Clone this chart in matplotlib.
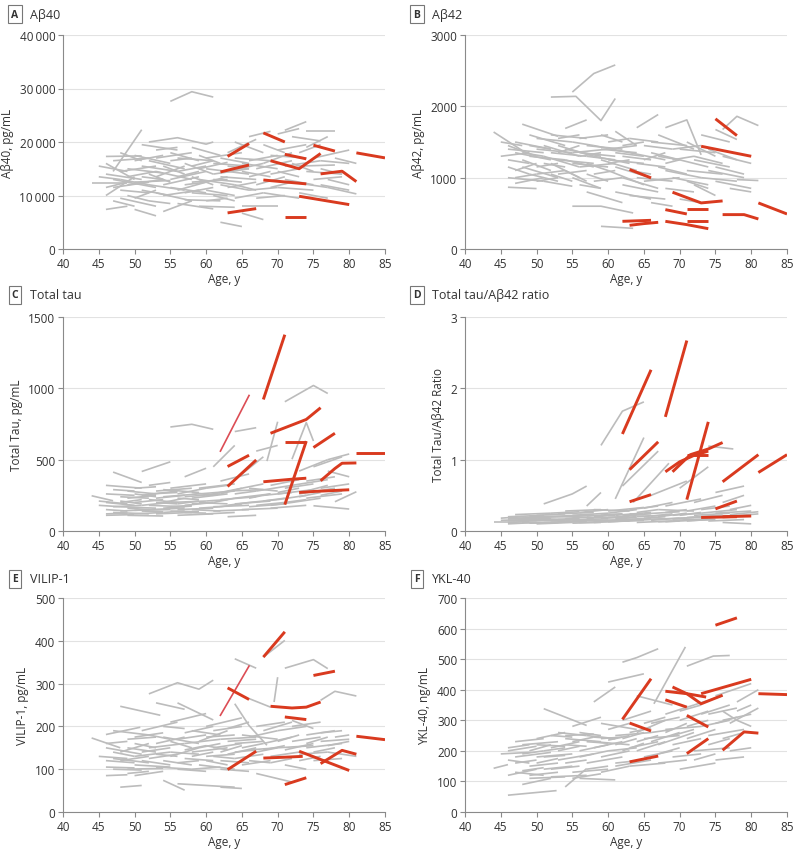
import matplotlib
matplotlib.use("Agg")
import matplotlib.pyplot as plt
from matplotlib.ticker import FuncFormatter

plt.rcParams['font.family'] = ['Open Sans', 'DejaVu Sans']

age_ticks = [40, 45, 50, 55, 60, 65, 70, 75, 80, 85]

# --- A: Abeta40 ---------------------------------------------------------
A_yticks = [0, 10000, 20000, 30000, 40000]
A_gray = [
    ((44, 49), (12300, 12300)), ((46, 51), (17300, 17400)), ((46, 49), (7400, 8000)),
    ((47, 51), (14500, 22300)), ((46, 50), (10000, 13500)), ((47, 53), (13000, 11500)),
    ((48, 53), (9500, 8000)), ((50, 53), (7400, 6200)), ((46, 50), (16000, 13000)),
    ((48, 52), (11000, 10500)), ((49, 54), (15000, 14200)), ((50, 55), (12500, 12800)),
    ((51, 56), (19500, 18500)), ((52, 56, 60, 61), (20000, 20800, 19600, 20000)),
    ((52, 57), (16500, 15000)), ((53, 58), (10500, 9000)), ((53, 57), (13500, 15500)),
    ((54, 58), (7000, 9000)), ((55, 60), (13000, 14500)), ((55, 58, 61), (27600, 29400, 28400)),
    ((55, 59), (18000, 16500)), ((56, 60), (11000, 12500)), ((56, 61), (8500, 7500)),
    ((57, 62), (9200, 9000)), ((57, 61), (16000, 14000)), ((58, 63), (12500, 13000)),
    ((58, 62), (19000, 17500)), ((59, 64), (8000, 7800)), ((59, 63), (15000, 16200)),
    ((60, 66), (15000, 14000)), ((60, 64), (11000, 10000)), ((61, 65), (13000, 12500)),
    ((62, 65), (5000, 4200)), ((62, 66), (17000, 16000)), ((63, 67), (18000, 20500)),
    ((63, 67), (11500, 12500)), ((64, 68), (20000, 18000)), ((64, 68), (9500, 10500)),
    ((65, 68), (6700, 5500)), ((65, 70), (8000, 8000)), ((65, 69), (14500, 13500)),
    ((66, 69), (21000, 22000)), ((66, 70), (16500, 17500)), ((67, 71), (9500, 10000)),
    ((67, 71), (12000, 13500)), ((68, 72), (16000, 18000)), ((68, 71), (19500, 18000)),
    ((69, 73), (14000, 15000)), ((70, 75), (11500, 11000)), ((70, 73), (21500, 22500)),
    ((71, 74), (22200, 23800)), ((71, 75), (13000, 12000)), ((72, 76), (21000, 20200)),
    ((72, 75), (16000, 14500)), ((73, 78), (15500, 15700)), ((74, 78), (22000, 22000)),
    ((74, 77), (19000, 21000)), ((75, 80), (17000, 18500)), ((75, 79), (13000, 13500)),
    ((76, 80), (12000, 11000)), ((77, 81), (11500, 10300)), ((78, 81), (17000, 16000)),
    ((45, 49), (15500, 14500)), ((47, 52), (11500, 12500)), ((48, 51), (18000, 16500)),
    ((49, 53), (13500, 14500)), ((50, 54), (16500, 17500)), ((51, 55), (11000, 10000)),
    ((52, 55), (14000, 12500)), ((53, 58), (17000, 18000)), ((54, 59), (12000, 13500)),
    ((54, 57), (15500, 14000)), ((56, 60), (14500, 15500)), ((57, 61), (10500, 11500)),
    ((58, 61), (13500, 12000)), ((59, 62), (17500, 16000)), ((60, 63), (9000, 9500)),
    ((61, 66), (14000, 15000)), ((62, 66), (12000, 11000)), ((63, 66), (15500, 15000)),
    ((64, 69), (17000, 16500)), ((66, 70), (11000, 11500)), ((69, 72), (11500, 12500)),
    ((70, 74), (18500, 19500)), ((73, 77), (10500, 9500)), ((76, 79), (15000, 14000)),
    ((45, 48), (13500, 13000)), ((46, 49), (11500, 12500)), ((46, 51), (14000, 13000)),
    ((47, 50), (9000, 8000)), ((47, 52), (16500, 17000)), ((48, 52), (13000, 12000)),
    ((48, 53), (14500, 15500)), ((49, 52), (10000, 9000)), ((49, 54), (12000, 13000)),
    ((50, 55), (17500, 16000)), ((50, 53), (9500, 11000)), ((51, 54), (13500, 13000)),
    ((51, 56), (15500, 14500)), ((52, 57), (12000, 11000)), ((52, 55), (9000, 8500)),
    ((53, 56), (18500, 19000)), ((53, 58), (14500, 13000)), ((54, 59), (10000, 11000)),
    ((55, 58), (16500, 17000)), ((55, 60), (11500, 10500)), ((56, 59), (13500, 14500)),
    ((56, 61), (17000, 16500)), ((57, 60), (12000, 12500)), ((58, 63), (10500, 10000)),
    ((58, 61), (15500, 16500)), ((59, 64), (13000, 12000)), ((60, 65), (17000, 18000)),
    ((60, 63), (12500, 13500)), ((61, 64), (10000, 9000)), ((61, 66), (16000, 15500)),
    ((62, 67), (13500, 13000)), ((63, 68), (14500, 16000)), ((64, 67), (12000, 11000)),
    ((65, 70), (16000, 15000)), ((66, 69), (13500, 14500)), ((67, 72), (15000, 16500)),
    ((68, 73), (10500, 9500)), ((69, 74), (17500, 17000)), ((70, 73), (14500, 13500)),
    ((71, 76), (15500, 16500)), ((72, 77), (12500, 11500)), ((73, 76), (18000, 19500)),
    ((74, 79), (14500, 14000)), ((76, 80), (16500, 16000)), ((77, 80), (13000, 12000)),
]
A_red = [
    ((63, 66), (17300, 19700)), ((62, 66), (14400, 15700)), ((63, 67), (6750, 7550)),
    ((68, 71), (21700, 20000)), ((71, 74), (17700, 16850)), ((69, 73, 76), (16500, 15000, 17850)),
    ((68, 74), (12900, 12170)), ((71, 74), (6000, 6000)), ((73, 80), (9860, 8300)),
    ((75, 78), (19400, 18300)), ((76, 79, 81), (14040, 14540, 12600)), ((81, 85), (17970, 17030)),
]
A_red_thin = []

# --- B: Abeta42 ---------------------------------------------------------
B_yticks = [0, 1000, 2000, 3000]
B_gray = [
    ((44, 48), (1640, 1380)), ((46, 50), (866, 847)), ((46, 50), (1450, 1300)),
    ((46, 51), (1000, 950)), ((46, 49), (1150, 1050)), ((47, 52), (1350, 1250)),
    ((47, 51), (920, 1000)), ((48, 53), (1750, 1580)), ((48, 52), (1250, 1100)),
    ((49, 53), (1050, 950)), ((49, 54), (1600, 1450)), ((50, 55), (1400, 1350)),
    ((50, 53), (1150, 1200)), ((51, 55), (950, 880)), ((51, 56), (1300, 1150)),
    ((52, 55.5, 59, 61), (2130, 2140, 1800, 2110)), ((52, 57), (1600, 1550)),
    ((52, 56), (1200, 1000)), ((53, 57), (1050, 1100)), ((53, 58), (1450, 1300)),
    ((54, 57), (1690, 1810)), ((54, 58), (1250, 1150)), ((55, 58, 61), (2200, 2460, 2580)),
    ((55, 59, 63.5), (600, 600, 505)), ((55, 60), (1350, 1400)), ((55, 59), (1000, 850)),
    ((56, 60), (1550, 1600)), ((56, 61), (1150, 1200)), ((57, 62), (800, 650)),
    ((57, 61), (1300, 1250)), ((58, 63), (1450, 1350)), ((58, 62), (950, 1000)),
    ((59, 63.5), (318, 290)), ((59, 64), (1250, 1100)), ((59, 62), (1600, 1500)),
    ((60, 65), (1100, 900)), ((60, 64), (1400, 1450)), ((61, 66), (800, 700)),
    ((61, 64), (1650, 1450)), ((62, 66), (1300, 1250)), ((62, 67), (1000, 850)),
    ((63, 67), (1550, 1500)), ((63, 68), (750, 700)), ((64, 67), (1700, 1885)),
    ((64, 68), (1200, 1150)), ((65, 69), (1450, 1400)), ((65, 70), (950, 1000)),
    ((66, 70), (1350, 1250)), ((66, 69), (650, 600)), ((67, 71), (1150, 1050)),
    ((67, 72), (1600, 1400)), ((68, 71, 73), (1700, 1810, 1320)), ((68, 72), (850, 800)),
    ((69, 73), (1400, 1450)), ((69, 74), (1000, 900)), ((70, 74), (1250, 1150)),
    ((70, 73), (700, 650)), ((71, 75), (1500, 1300)), ((71, 76), (1100, 1050)),
    ((72, 76), (1300, 1200)), ((72, 75), (900, 750)), ((73, 77), (1600, 1500)),
    ((73, 78), (1000, 950)), ((74, 78), (1400, 1250)), ((75, 78), (1675, 1535)),
    ((75, 79), (1150, 1050)), ((76, 78, 81), (1675, 1860, 1730)), ((76, 80), (1300, 1200)),
    ((77, 80), (850, 800)), ((78, 81), (973, 960)), ((45, 49), (1300, 1350)),
    ((47, 50), (1100, 1200)), ((50, 54), (1050, 1100)), ((53, 56), (1350, 1450)),
    ((56, 59), (1300, 1350)), ((57, 60), (1050, 950)), ((60, 63), (1200, 1250)),
    ((61, 65), (1350, 1300)), ((63, 66), (1100, 1050)), ((68, 70), (1200, 1250)),
    ((45, 48), (1500, 1450)), ((46, 49), (1250, 1200)), ((46, 51), (1400, 1350)),
    ((47, 50), (1000, 1050)), ((47, 52), (1500, 1400)), ((48, 51), (1350, 1300)),
    ((48, 53), (1150, 1000)), ((49, 52), (1450, 1400)), ((49, 54), (1300, 1250)),
    ((50, 55), (1550, 1500)), ((50, 53), (950, 1000)), ((51, 54), (1200, 1150)),
    ((51, 56), (1450, 1300)), ((52, 57), (1350, 1300)), ((52, 55), (1050, 950)),
    ((53, 58), (1250, 1200)), ((53, 56), (1550, 1600)), ((54, 59), (1400, 1300)),
    ((54, 57), (1100, 950)), ((55, 60), (1200, 1150)), ((55, 58), (1500, 1450)),
    ((56, 61), (1350, 1300)), ((56, 59), (900, 850)), ((57, 62), (1450, 1400)),
    ((57, 60), (1200, 1100)), ((58, 63), (1300, 1200)), ((58, 61), (1050, 1100)),
    ((59, 64), (1400, 1350)), ((60, 65), (1250, 1200)), ((60, 63), (1500, 1550)),
    ((61, 66), (1150, 1000)), ((62, 65), (1450, 1500)), ((62, 67), (900, 800)),
    ((63, 68), (1350, 1250)), ((64, 69), (1000, 950)), ((65, 68), (1250, 1350)),
    ((66, 71), (1500, 1450)), ((67, 70), (1300, 1250)), ((68, 73), (1100, 1000)),
    ((69, 72), (1250, 1300)), ((70, 75), (1400, 1350)), ((71, 74), (950, 850)),
    ((72, 77), (1250, 1150)), ((74, 79), (1100, 1000)), ((75, 80), (950, 850)),
]
B_red = [
    ((75, 78), (1825, 1590)), ((73, 80), (1440, 1300)), ((63, 66), (1114, 997)),
    ((69, 73, 76), (796, 646, 674)), ((68, 71), (552, 491)), ((71, 74), (560, 560)),
    ((81, 85), (646, 491)), ((76, 79, 81), (482, 482, 421)), ((62, 66), (388, 402)),
    ((63, 65, 67), (332, 356, 374)), ((68, 71, 74), (388, 342, 285)), ((71, 74), (398, 398)),
]
B_red_thin = []

# --- C: Total tau -------------------------------------------------------
C_yticks = [0, 500, 1000, 1500]
C_gray = [
    ((44, 47), (247, 212)), ((46, 50), (110, 115)), ((46, 49), (150, 140)),
    ((46, 51), (320, 300)), ((46, 50), (200, 180)), ((47, 51), (413, 340)),
    ((47, 52), (130, 120)), ((48, 52), (240, 230)), ((48, 53), (170, 160)),
    ((49, 54), (110, 105)), ((49, 53), (280, 260)), ((50, 54), (200, 220)),
    ((50, 55), (145, 150)), ((51, 55), (417, 485)), ((51, 56), (250, 280)),
    ((52, 57), (180, 170)), ((52, 55), (320, 340)), ((53, 58), (120, 130)),
    ((53, 57), (230, 250)), ((54, 58), (160, 175)), ((54, 59), (290, 270)),
    ((55, 58, 61), (729, 748, 713)), ((55, 60), (200, 210)), ((55, 59), (140, 135)),
    ((56, 60), (260, 300)), ((56, 61), (110, 120)), ((57, 61), (180, 200)),
    ((57, 60), (380, 440)), ((58, 63), (230, 260)), ((58, 62), (150, 140)),
    ((59, 64), (300, 330)), ((59, 63), (200, 190)), ((60, 64), (120, 130)),
    ((60, 65), (250, 300)), ((61, 64), (450, 600)), ((61, 66), (170, 180)),
    ((62, 66), (350, 400)), ((62, 67), (220, 240)), ((63, 67), (100, 110)),
    ((63, 68), (280, 290)), ((64, 67), (697, 724)), ((64, 69), (190, 210)),
    ((65, 68), (400, 520)), ((65, 70), (150, 160)), ((66, 70), (300, 280)),
    ((66, 69), (230, 260)), ((67, 71), (180, 200)), ((67, 70), (560, 600)),
    ((68.5, 70), (490, 766)), ((68, 72), (250, 270)), ((69, 73), (320, 360)),
    ((69, 74), (160, 180)), ((70, 74), (220, 250)), ((71, 75, 77), (906, 1020, 964)),
    ((71, 75), (300, 330)), ((72, 74, 75), (503, 760, 631)), ((72, 76), (200, 230)),
    ((73, 77), (420, 500)), ((73, 78), (260, 300)), ((74, 78), (350, 380)),
    ((74, 79), (230, 260)), ((75, 80), (177, 154)), ((75, 79), (450, 520)),
    ((76, 80), (300, 330)), ((77, 80), (420, 380)), ((78, 81), (205, 275)),
    ((77, 80), (500, 540)), ((45, 48), (180, 170)), ((48, 51), (210, 190)),
    ((50, 53), (260, 240)), ((52, 56), (220, 200)), ((54, 57), (200, 230)),
    ((56, 59), (230, 220)), ((58, 61), (270, 250)), ((60, 63), (210, 220)),
    ((62, 65), (170, 190)), ((64, 67), (260, 280)), ((66, 70), (200, 220)),
    ((70, 73), (270, 300)),
    ((45, 49), (210, 190)), ((46, 50), (260, 250)), ((46, 49), (120, 125)),
    ((47, 51), (170, 180)), ((47, 50), (290, 280)), ((48, 52), (140, 150)),
    ((48, 51), (200, 220)), ((49, 53), (230, 250)), ((49, 52), (160, 150)),
    ((50, 54), (120, 130)), ((50, 53), (300, 310)), ((51, 55), (180, 200)),
    ((51, 54), (140, 135)), ((52, 56), (260, 270)), ((52, 57), (150, 160)),
    ((53, 56), (200, 190)), ((53, 58), (280, 300)), ((54, 57), (130, 140)),
    ((54, 59), (240, 260)), ((55, 58), (170, 180)), ((55, 60), (300, 330)),
    ((56, 59), (190, 210)), ((56, 61), (150, 160)), ((57, 62), (240, 260)),
    ((57, 60), (130, 125)), ((58, 61), (190, 200)), ((59, 62), (160, 170)),
    ((59, 64), (260, 280)), ((60, 63), (300, 320)), ((61, 64), (200, 230)),
    ((61, 66), (140, 150)), ((62, 65), (260, 300)), ((63, 66), (180, 200)),
    ((64, 69), (230, 260)), ((65, 68), (300, 330)), ((66, 71), (170, 190)),
    ((67, 72), (280, 320)), ((68, 71), (210, 230)), ((69, 72), (180, 200)),
    ((70, 75), (260, 290)), ((71, 74), (200, 220)), ((72, 77), (320, 360)),
    ((73, 76), (240, 270)), ((74, 77), (280, 320)), ((76, 79), (250, 280)),
]
C_red = [
    ((68, 71), (922, 1376)), ((63, 66), (452, 531)), ((63, 67), (312, 498)),
    ((69, 72, 74, 76), (685, 743, 782, 864)), ((75, 78), (585, 685)), ((71, 74), (625, 625)),
    ((71, 74), (185, 630)), ((68, 72, 74), (345, 363, 370)), ((73, 75, 80), (270, 277, 289)),
    ((76, 78, 79, 81), (352, 438, 475, 477)), ((81, 85), (550, 550)),
]
C_red_thin = [((62, 66), (560, 950))]

# --- D: Total tau/Abeta42 ratio -----------------------------------------
D_yticks = [0, 1, 2, 3]
D_gray = [
    ((44, 47), (0.13, 0.13)), ((46, 50), (0.10, 0.12)), ((46, 51), (0.20, 0.22)),
    ((46, 49), (0.15, 0.14)), ((47, 52), (0.23, 0.25)), ((48, 52), (0.12, 0.11)),
    ((48, 53), (0.18, 0.20)), ((49, 54), (0.14, 0.15)), ((50, 54), (0.22, 0.24)),
    ((50, 55), (0.10, 0.12)), ((51, 55, 57), (0.38, 0.52, 0.63)), ((51, 56), (0.17, 0.16)),
    ((52, 56), (0.25, 0.27)), ((52, 57), (0.12, 0.13)), ((53, 58), (0.20, 0.22)),
    ((54, 58), (0.15, 0.17)), ((54, 59), (0.28, 0.30)), ((55, 59), (0.11, 0.12)),
    ((55, 60), (0.20, 0.18)), ((56, 60), (0.26, 0.30)), ((56, 61), (0.15, 0.14)),
    ((57, 59), (0.35, 0.54)), ((57, 62), (0.21, 0.24)), ((58, 62), (0.12, 0.14)),
    ((58, 63), (0.30, 0.28)), ((59, 62, 65), (1.20, 1.68, 1.81)), ((59, 64), (0.18, 0.20)),
    ((60, 64), (0.25, 0.30)), ((60, 65), (0.13, 0.15)), ((61, 65), (0.45, 1.31)),
    ((61, 66), (0.22, 0.26)), ((62, 67), (0.63, 1.12)), ((62, 66), (0.16, 0.18)),
    ((63, 67), (0.30, 0.35)), ((63.5, 68.5), (0.40, 0.95)), ((64, 68), (0.20, 0.22)),
    ((64, 69), (0.12, 0.14)), ((65, 69), (0.32, 0.40)), ((65, 70), (0.24, 0.27)),
    ((66, 70), (0.15, 0.18)), ((66, 71), (0.50, 0.70)), ((67, 71), (0.20, 0.25)),
    ((67, 72), (0.30, 0.28)), ((68, 72), (0.13, 0.15)), ((68, 73), (0.35, 0.45)),
    ((69, 73), (0.22, 0.25)), ((70, 74), (0.60, 0.90)), ((70, 75), (0.18, 0.20)),
    ((71, 75), (0.28, 0.35)), ((71, 74), (0.14, 0.16)), ((72, 76), (0.40, 0.50)),
    ((72, 77), (0.22, 0.25)), ((73, 77), (0.30, 0.35)), ((74, 77.5), (1.19, 1.15)),
    ((74, 78), (0.18, 0.22)), ((75, 79), (0.54, 0.63)), ((75, 80), (0.25, 0.28)),
    ((76, 80), (0.12, 0.10)), ((76, 79), (0.40, 0.50)), ((77, 81), (0.23, 0.27)),
    ((45, 48), (0.18, 0.20)), ((49, 52), (0.19, 0.17)), ((53, 56), (0.16, 0.18)),
    ((57, 60), (0.16, 0.15)), ((59, 62), (0.22, 0.24)), ((61, 64), (0.17, 0.19)),
    ((63, 66), (0.24, 0.22)), ((65, 68), (0.18, 0.20)), ((69, 72), (0.17, 0.19)),
    ((73, 76), (0.20, 0.22)),
    ((45, 49), (0.15, 0.16)), ((46, 50), (0.17, 0.18)), ((46, 49), (0.12, 0.13)),
    ((47, 51), (0.14, 0.15)), ((47, 50), (0.20, 0.19)), ((48, 52), (0.16, 0.17)),
    ((49, 53), (0.11, 0.12)), ((49, 54), (0.21, 0.20)), ((50, 53), (0.16, 0.15)),
    ((51, 54), (0.12, 0.13)), ((51, 56), (0.20, 0.22)), ((52, 55), (0.15, 0.16)),
    ((53, 57), (0.13, 0.14)), ((53, 58), (0.24, 0.26)), ((54, 57), (0.18, 0.19)),
    ((55, 58), (0.14, 0.15)), ((55, 60), (0.22, 0.25)), ((56, 59), (0.12, 0.13)),
    ((57, 61), (0.18, 0.19)), ((58, 61), (0.20, 0.22)), ((58, 63), (0.15, 0.16)),
    ((59, 63), (0.13, 0.14)), ((60, 63), (0.19, 0.21)), ((60, 65), (0.28, 0.33)),
    ((61, 65), (0.14, 0.15)), ((62, 65), (0.21, 0.23)), ((63, 68), (0.15, 0.17)),
    ((64, 67), (0.26, 0.30)), ((65, 70), (0.16, 0.18)), ((66, 69), (0.21, 0.24)),
    ((67, 70), (0.13, 0.14)), ((68, 71), (0.26, 0.30)), ((69, 74), (0.15, 0.17)),
    ((70, 73), (0.22, 0.26)), ((71, 76), (0.19, 0.22)), ((72, 75), (0.15, 0.16)),
    ((73, 78), (0.25, 0.30)), ((74, 79), (0.14, 0.16)), ((76, 81), (0.20, 0.24)),
    ((77, 80), (0.30, 0.36)),
]
D_red = [
    ((62, 66), (1.36, 2.26)), ((68, 71), (1.60, 2.67)), ((63, 67), (0.86, 1.25)),
    ((63, 66), (0.41, 0.51)), ((68, 70, 72, 74), (0.83, 0.97, 1.06, 1.12)),
    ((69, 71.5, 74, 76), (0.83, 1.07, 1.15, 1.24)), ((71, 74), (0.44, 1.53)),
    ((71, 74), (1.07, 1.07)), ((73, 78), (0.19, 0.20)), ((76, 80), (0.20, 0.21)),
    ((75, 78), (0.31, 0.42)), ((76, 81), (0.69, 1.07)), ((81, 85), (0.82, 1.07)),
]
D_red_thin = []

# --- E: VILIP-1 ---------------------------------------------------------
E_yticks = [0, 100, 200, 300, 400, 500]
E_gray = [
    ((44, 48), (173, 150)), ((46, 50), (105, 103)), ((46, 50.8), (181, 198)),
    ((46, 49), (85, 87)), ((46, 51), (150, 135)), ((47, 52), (125, 115)),
    ((48, 53.6), (247, 226)), ((48, 51), (58, 62)), ((48, 52), (140, 160)),
    ((49, 54), (100, 102)), ((49, 53), (170, 175)), ((50, 55), (130, 140)),
    ((50, 54), (85, 95)), ((51, 56), (190, 210)), ((51, 55), (120, 110)),
    ((52, 56, 59, 61), (276, 302, 287, 308)), ((52, 57), (150, 160)), ((53, 57), (255, 240)),
    ((53, 58), (105, 100)), ((54, 57), (74, 51)), ((54, 59), (175, 160)),
    ((55, 59), (130, 150)), ((55, 60), (210, 230)), ((56, 64), (66, 58)),
    ((56, 60), (100, 95)), ((56, 61), (255, 215)), ((57, 62), (160, 170)),
    ((57, 61), (125, 120)), ((58, 62), (190, 180)), ((58, 63), (140, 150)),
    ((59, 64), (110, 100)), ((59, 63), (165, 190)), ((60, 64), (130, 135)),
    ((60, 65), (200, 220)), ((61, 65), (150, 160)), ((62, 65), (58, 55)),
    ((62, 66), (120, 115)), ((62, 67), (170, 175)), ((63, 67), (135, 150)),
    ((63, 66), (195, 210)), ((64, 67), (358, 336)), ((64, 66, 68.5), (253, 202, 156)),
    ((64, 68), (160, 165)), ((65, 69), (110, 120)), ((65, 70), (180, 170)),
    ((66, 70), (145, 150)), ((66, 69), (265, 245)), ((67, 71), (200, 210)),
    ((67, 72), (90, 70)), ((68, 71), (362, 401)), ((68, 72), (160, 175)),
    ((69, 73), (130, 140)), ((69.5, 70), (257, 315)), ((70, 74), (190, 200)),
    ((70, 75), (150, 155)), ((71, 75, 77), (336, 356, 335)), ((71, 74), (110, 100)),
    ((72, 75), (214, 195)), ((72, 76), (165, 175)), ((73, 77), (135, 140)),
    ((74, 78), (180, 190)), ((74, 79), (150, 160)), ((75, 79), (120, 125)),
    ((76, 78, 81), (261, 282, 271)), ((76, 80), (165, 170)), ((77, 81), (140, 130)),
    ((78, 80), (175, 180)), ((47, 50), (140, 130)), ((50, 53), (160, 150)),
    ((53, 56), (135, 130)), ((55, 58), (165, 150)), ((57, 60), (145, 155)),
    ((60, 63), (155, 145)), ((61, 64), (130, 125)), ((64, 67), (140, 145)),
    ((68, 71), (145, 155)),
    ((45, 49), (130, 125)), ((46, 50), (120, 115)), ((46, 49), (160, 165)),
    ((47, 51), (100, 98)), ((47, 52), (190, 180)), ((48, 52), (120, 130)),
    ((49, 53), (150, 140)), ((49, 52), (90, 95)), ((50, 54), (175, 185)),
    ((50, 55), (110, 105)), ((51, 55), (140, 150)), ((52, 56), (125, 135)),
    ((52, 55), (180, 170)), ((53, 57), (160, 175)), ((54, 58), (120, 110)),
    ((54, 57), (200, 195)), ((55, 59), (140, 135)), ((56, 60), (170, 180)),
    ((56, 59), (115, 120)), ((57, 61), (185, 200)), ((58, 61), (130, 140)),
    ((58, 62), (100, 105)), ((59, 62), (150, 160)), ((60, 64), (175, 180)),
    ((60, 63), (120, 110)), ((61, 65), (190, 200)), ((62, 65), (140, 155)),
    ((62, 66), (100, 95)), ((63, 67), (165, 170)), ((64, 68), (125, 135)),
    ((65, 68), (150, 160)), ((66, 70), (175, 190)), ((66, 69), (120, 115)),
    ((67, 70), (140, 150)), ((68, 72), (190, 210)), ((69, 72), (115, 125)),
    ((70, 73), (165, 180)), ((71, 75), (145, 160)), ((72, 76), (200, 210)),
    ((73, 76), (120, 130)), ((74, 77), (160, 175)), ((75, 78), (140, 150)),
    ((76, 79), (185, 190)), ((77, 80), (155, 165)),
]
E_red = [
    ((68, 71), (362, 421)), ((63, 66), (290, 263)), ((69, 72, 74, 76), (247, 243, 245, 257)),
    ((71, 74), (222, 216)), ((75, 78), (319, 329)), ((63, 67), (99, 142)),
    ((68, 71, 73.5), (126, 128, 130)), ((73, 80), (142, 97)), ((76, 79, 81), (113, 144, 135)),
    ((71, 74), (64, 80)), ((81, 85), (177, 169)),
]
E_red_thin = [((62, 66), (226, 341))]

# --- F: YKL-40 ----------------------------------------------------------
F_yticks = [0, 100, 200, 300, 400, 500, 600, 700]
F_gray = [
    ((44, 46), (143, 155)), ((46, 52.8), (55, 70)), ((46, 50), (200, 215)),
    ((46, 49), (170, 160)), ((47, 51), (130, 120)), ((47, 52), (180, 195)),
    ((48, 52), (90, 110)), ((48, 53), (220, 230)), ((49, 53), (150, 160)),
    ((49, 54), (110, 115)), ((50, 54), (240, 260)), ((50, 55), (180, 190)),
    ((51, 57), (338, 283)), ((51, 55), (140, 150)), ((52, 56), (210, 230)),
    ((52, 57), (115, 120)), ((53, 57), (260, 250)), ((53, 58), (170, 190)),
    ((54, 57), (82, 142)), ((54, 59), (240, 230)), ((55, 60), (130, 140)),
    ((55, 59), (280, 310)), ((56, 60), (200, 220)), ((56, 61), (110, 105)),
    ((57, 61), (250, 240)), ((57, 62), (160, 180)), ((58, 61), (360, 409)),
    ((58, 63), (230, 220)), ((59, 63), (130, 150)), ((59, 64), (290, 270)),
    ((60, 65), (425, 452)), ((60, 64), (200, 210)), ((61, 66), (250, 260)),
    ((61, 65), (160, 170)), ((62, 64, 67), (490, 505, 534)), ((62, 66), (300, 330)),
    ((63, 67), (210, 230)), ((63, 68), (150, 160)), ((64, 68), (260, 300)),
    ((64, 69), (380, 350)), ((65, 69), (180, 200)), ((65, 70), (240, 250)),
    ((66.4, 70.8), (354, 540)), ((66, 70), (290, 310)), ((67, 71), (160, 170)),
    ((67, 72), (220, 260)), ((68, 72), (320, 350)), ((68, 73), (270, 280)),
    ((69, 73), (180, 190)), ((70, 74), (300, 330)), ((70, 75), (140, 160)),
    ((71, 74.7, 77), (477, 510, 512)), ((71, 75), (240, 270)), ((72, 76), (350, 380)),
    ((72, 77), (200, 210)), ((73, 77), (280, 300)), ((74, 78), (320, 340)),
    ((74, 79), (250, 270)), ((75, 79), (170, 180)), ((75, 80), (380, 420)),
    ((76, 80), (300, 320)), ((76, 78, 80), (330, 300, 280)), ((77, 81), (290, 340)),
    ((78, 81), (360, 400)), ((48, 51), (190, 200)), ((51, 54), (200, 210)),
    ((54, 57), (220, 215)), ((57, 60), (230, 225)), ((58, 61), (245, 240)),
    ((60, 63), (235, 250)), ((62, 65), (240, 260)), ((64, 67), (230, 250)),
    ((66, 69), (260, 270)), ((69, 72), (250, 270)),
    ((45, 49), (190, 195)), ((46, 49), (210, 220)), ((46, 50), (120, 140)),
    ((47, 50), (160, 170)), ((47, 51), (230, 240)), ((48, 51), (135, 145)),
    ((49, 52), (200, 220)), ((49, 53), (120, 130)), ((50, 53), (160, 175)),
    ((50, 54), (220, 215)), ((51, 54), (180, 185)), ((52, 55), (250, 245)),
    ((52, 56), (140, 150)), ((53, 56), (200, 215)), ((54, 58), (250, 255)),
    ((54, 57), (160, 170)), ((55, 58), (230, 245)), ((55, 59), (110, 125)),
    ((56, 59), (260, 250)), ((56, 60), (180, 200)), ((57, 60), (140, 150)),
    ((58, 62), (210, 230)), ((59, 62), (240, 245)), ((59, 63), (180, 200)),
    ((60, 63), (270, 290)), ((61, 64), (220, 240)), ((61, 66), (150, 170)),
    ((62, 65), (200, 225)), ((63, 66), (260, 275)), ((64, 68), (200, 230)),
    ((65, 68), (290, 310)), ((66, 70), (230, 260)), ((67, 70), (190, 210)),
    ((68, 71), (260, 290)), ((69, 73), (220, 240)), ((70, 73), (330, 350)),
    ((71, 74), (280, 300)), ((72, 75), (170, 190)), ((73, 77), (320, 350)),
    ((74, 77), (220, 240)), ((75, 78), (290, 310)), ((76, 79), (240, 260)),
    ((77, 80), (200, 210)), ((78, 80), (330, 350)),
]
F_red = [
    ((75, 78), (611, 635)), ((62, 66), (303, 436)), ((63, 66), (291, 265)),
    ((63, 67), (164, 183)), ((68, 71, 73.7), (395, 387, 376)),
    ((69, 71, 73, 76), (409, 387, 354, 382)), ((73, 80), (387, 434)),
    ((68, 71), (367, 343)), ((71, 74), (316, 278)), ((71, 74), (191, 240)),
    ((76, 79, 81), (202, 262, 258)), ((81, 85), (387, 384)),
]
F_red_thin = []

panels = [
    ("A", "A\u03b240", "A\u03b240, pg/mL", A_yticks, A_gray, A_red, A_red_thin),
    ("B", "A\u03b242", "A\u03b242, pg/mL", B_yticks, B_gray, B_red, B_red_thin),
    ("C", "Total tau", "Total Tau, pg/mL", C_yticks, C_gray, C_red, C_red_thin),
    ("D", "Total tau/A\u03b242 ratio", "Total Tau/A\u03b242 Ratio", D_yticks, D_gray, D_red, D_red_thin),
    ("E", "VILIP-1", "VILIP-1, pg/mL", E_yticks, E_gray, E_red, E_red_thin),
    ("F", "YKL-40", "YKL-40, ng/mL", F_yticks, F_gray, F_red, F_red_thin),
]

W, H = 800, 854
fig = plt.figure(figsize=(W / 100, H / 100), dpi=100)

GRAY = "#bcbcbc"
RED = "#d93a1f"
TXT = "#333333"

col_left = [63, 465]
row_bottom = [250, 532, 813]   # pixel y of the zero line
row_label = [15, 296, 580]     # pixel y of the panel label
ax_w, ax_h = 322, 214


def thousands(v, pos):
    return f"{int(v):,}".replace(",", "\u2009")


for i, (letter, title, ylabel, yticks, gray, red, red_thin) in enumerate(panels):
    r, c = divmod(i, 2)
    left = col_left[c]
    bottom = row_bottom[r]
    ax = fig.add_axes([left / W, (H - bottom) / H, ax_w / W, ax_h / H])

    for ages, vals in gray:
        ax.plot(ages, vals, color=GRAY, lw=1.2, solid_capstyle="butt", zorder=2)
    for ages, vals in red_thin:
        ax.plot(ages, vals, color="#dc4d55", lw=1.2, zorder=3)
    for ages, vals in red:
        ax.plot(ages, vals, color=RED, lw=2.1, solid_capstyle="butt", zorder=4)

    ax.set_xlim(40, 85)
    ax.set_ylim(yticks[0], yticks[-1])
    ax.set_xticks(age_ticks)
    ax.set_yticks(yticks)
    if yticks[-1] >= 10000:
        ax.yaxis.set_major_formatter(FuncFormatter(thousands))
    ax.grid(axis="y", color="#e2e2e2", lw=0.8, zorder=0)
    ax.set_axisbelow(True)
    for s in ("top", "right"):
        ax.spines[s].set_visible(False)
    for s in ("left", "bottom"):
        ax.spines[s].set_color("#8a8a8a")
        ax.spines[s].set_linewidth(0.8)
    ax.tick_params(axis="both", colors="#8a8a8a", labelcolor=TXT, labelsize=8.5,
                   length=3.5, width=0.8, pad=2)
    ax.set_xlabel("Age, y", fontsize=8.5, color=TXT, labelpad=2)
    ax.set_ylabel(ylabel, fontsize=8.5, color=TXT, labelpad=4)

    # panel letter in a small box and panel title
    bx = (15 if c == 0 else 417) / W
    by = 1 - row_label[r] / H
    fig.text(bx, by, letter, ha="center", va="center", fontsize=7.5,
             fontweight="bold", color=TXT,
             bbox=dict(boxstyle="square,pad=0.3", fc="white", ec="#777777", lw=0.8))
    fig.text(bx + 15 / W, by, title, ha="left", va="center", fontsize=9, color=TXT)

fig.savefig("out.png", dpi=100)
